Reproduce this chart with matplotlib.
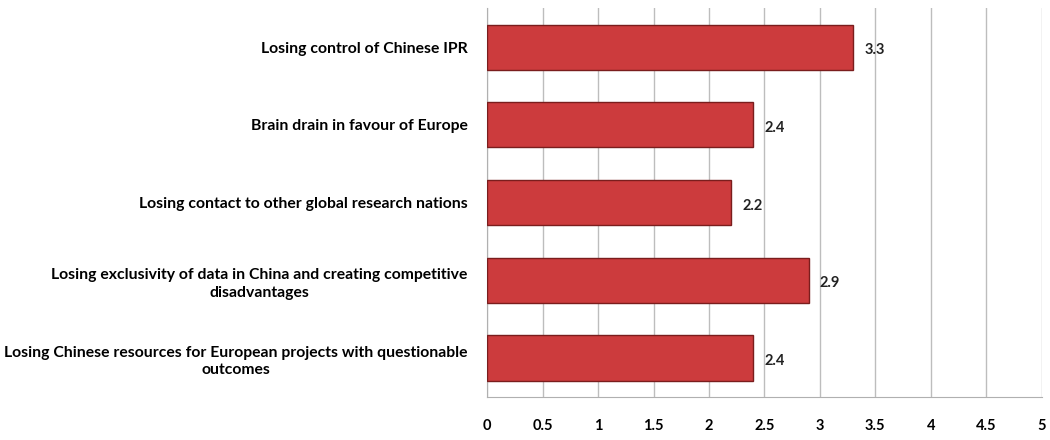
import matplotlib
matplotlib.use("Agg")
import matplotlib.pyplot as plt

# ── Data ─────────────────────────────────────────────────────────────────────
categories = [
    "Losing control of Chinese IPR",
    "Brain drain in favour of Europe",
    "Losing contact to other global research nations",
    "Losing exclusivity of data in China and creating competitive\ndisadvantages",
    "Losing Chinese resources for European projects with questionable\noutcomes",
]
values = [3.3, 2.4, 2.2, 2.9, 2.4]
xticks = [0, 0.5, 1, 1.5, 2, 2.5, 3, 3.5, 4, 4.5, 5]

plt.rcParams["font.family"] = ["Lato", "DejaVu Sans"]

fig = plt.figure(figsize=(10.5, 4.4), dpi=100)
ax = fig.add_axes([0.464, 0.098, 0.528, 0.883])

pos = list(range(len(categories)))
ax.barh(pos, values, height=0.58, color="#cc3b3d", edgecolor="#7a1d1d",
        linewidth=1.0, zorder=3)

for y, v in zip(pos, values):
    ax.text(v + 0.1, y + 0.04, f"{v:g}", va="center", ha="left",
            fontsize=10.5, fontweight="bold", color="#222222", zorder=4)

ax.set_xlim(0, 5)
ax.set_ylim(len(categories) - 0.5, -0.5)
ax.set_xticks(xticks)
ax.set_xticklabels([f"{t:g}" for t in xticks], fontsize=10.5, fontweight="bold")
ax.set_yticks(pos)
ax.set_yticklabels(categories, fontsize=11.3, fontweight="bold",
                   multialignment="center", linespacing=1.35)
ax.tick_params(axis="y", length=0, pad=14)
ax.tick_params(axis="x", length=0, pad=16)

ax.grid(axis="x", color="#bdbdbd", linewidth=1.0, zorder=0)
for side in ["top", "right"]:
    ax.spines[side].set_visible(False)
ax.spines["left"].set_color("#b0b0b0")
ax.spines["bottom"].set_color("#b0b0b0")

fig.savefig("out.png", dpi=100)
